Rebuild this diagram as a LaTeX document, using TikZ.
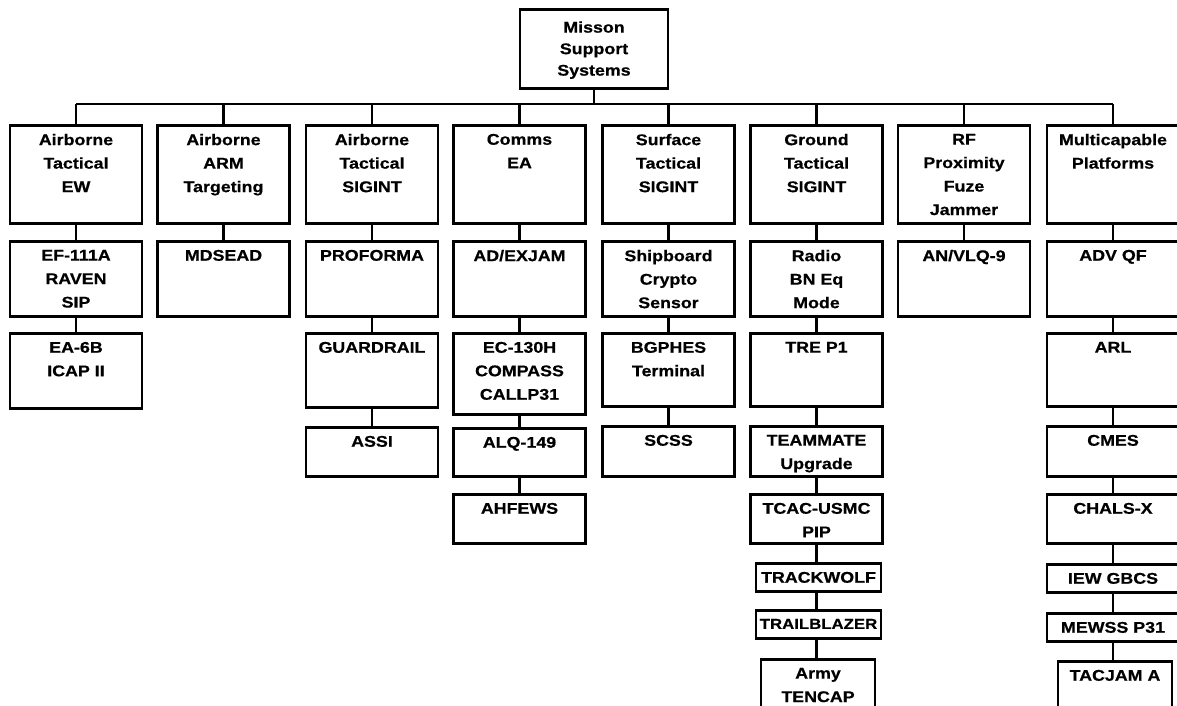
\documentclass[tikz,border=0pt]{standalone}
\usepackage{fontspec}
\setmainfont{Liberation Sans}[FakeStretch=1.15, BoldFeatures={FakeBold=0.6}]
\tikzset{
  x=1pt, y=-1pt,
  obox/.style={draw=black, line width=2.8pt, fill=white, inner sep=0pt, anchor=north,
    font=\fontsize{15.5}{23.5}\selectfont\bfseries},
  conn/.style={draw=black, line width=2.4pt},
}
% #1 name, #2 centre x, #3 top y, #4 width, #5 height, #6 text
\newcommand{\obx}[6]{%
  \node[obox, minimum width=#4pt, minimum height=#5pt] (#1) at (#2,#3)
    {\parbox[t][#5pt][t]{#4pt}{\centering\vspace*{8.5pt}#6\par}};}
\begin{document}
\begin{tikzpicture}
\useasboundingbox (0,0) rectangle (1177,706);
\clip (0,0) rectangle (1177,706);
% root
\node[obox, minimum width=148pt, minimum height=79pt, font=\fontsize{15.5}{21.5}\selectfont\bfseries] (root) at (594,8)
  {\parbox[t][79pt][t]{148pt}{\centering\vspace*{12pt}Misson\\Support\\Systems\par}};
\coordinate (bus) at (0,104);
% column A
\obx{A1}{76}{124}{132}{98}{Airborne\\Tactical\\EW}
\obx{A2}{76}{240}{132}{75}{EF-111A\\RAVEN\\SIP}
\obx{A3}{76}{332}{132}{75}{EA-6B\\ICAP II}
% column B
\obx{B1}{223.5}{124}{132}{98}{Airborne\\ARM\\Targeting}
\obx{B2}{223.5}{240}{132}{75}{MDSEAD}
% column C
\obx{C1}{372}{124}{132}{98}{Airborne\\Tactical\\SIGINT}
\obx{C2}{372}{240}{132}{75}{PROFORMA}
\obx{C3}{372}{332}{132}{74}{GUARDRAIL}
\obx{C4}{372}{426}{132}{49}{ASSI}
% column D
\obx{D1}{519.5}{124}{132}{98}{Comms\\EA}
\obx{D2}{519.5}{240}{132}{75}{AD/EXJAM}
\obx{D3}{519.5}{332}{132}{81}{EC-130H\\COMPASS\\CALLP31}
\obx{D4}{519.5}{427}{132}{48}{ALQ-149}
\obx{D5}{519.5}{493}{132}{49}{AHFEWS}
% column E
\obx{E1}{668.5}{124}{132}{98}{Surface\\Tactical\\SIGINT}
\obx{E2}{668.5}{240}{132}{75}{Shipboard\\Crypto\\Sensor}
\obx{E3}{668.5}{332}{132}{73}{BGPHES\\Terminal}
\obx{E4}{668.5}{425}{132}{50}{SCSS}
% column F
\obx{F1}{816.5}{124}{132}{98}{Ground\\Tactical\\SIGINT}
\obx{F2}{816.5}{240}{132}{75}{Radio\\BN Eq\\Mode}
\obx{F3}{816.5}{332}{132}{73}{TRE P1}
\obx{F4}{816.5}{425}{132}{50}{TEAMMATE\\Upgrade}
\obx{F5}{816.5}{493}{132}{49}{TCAC-USMC\\PIP}
\obx{F6}{818.5}{562}{125}{28}{TRACKWOLF}
\obx{F7}{818.5}{609}{125}{28}{\fontsize{14.6}{23.5}\selectfont TRAILBLAZER}
\obx{F8}{818}{658}{114}{70}{Army\\TENCAP}
% column G
\obx{G1}{964}{124}{132}{98}{RF\\Proximity\\Fuze\\Jammer}
\obx{G2}{964}{240}{132}{75}{AN/VLQ-9}
% column H
\obx{H1}{1113}{124}{132}{98}{Multicapable\\Platforms}
\obx{H2}{1113}{240}{132}{75}{ADV QF}
\obx{H3}{1113}{332}{132}{73}{ARL}
\obx{H4}{1113}{425}{132}{50}{CMES}
\obx{H5}{1113}{493}{132}{49}{CHALS-X}
\obx{H6}{1113}{563}{132}{28}{IEW GBCS}
\obx{H7}{1113}{612}{132}{28}{MEWSS P31}
\obx{H8}{1115}{660}{114}{70}{TACJAM A}
% connectors
\draw[conn] (root.south) -- (root.south |- bus);
\draw[conn] (A1.north |- bus) -- (H1.north |- bus);
\foreach \c in {A1,B1,C1,D1,E1,F1,G1,H1}
  \draw[conn] (\c.north) -- (\c.north |- bus);
\draw[conn] (A1.south) -- (A2.north);
\draw[conn] (A2.south) -- (A3.north);
\draw[conn] (B1.south) -- (B2.north);
\draw[conn] (C1.south) -- (C2.north);
\draw[conn] (C2.south) -- (C3.north);
\draw[conn] (C3.south) -- (C4.north);
\draw[conn] (D1.south) -- (D2.north);
\draw[conn] (D2.south) -- (D3.north);
\draw[conn] (D3.south) -- (D4.north);
\draw[conn] (D4.south) -- (D5.north);
\draw[conn] (E1.south) -- (E2.north);
\draw[conn] (E2.south) -- (E3.north);
\draw[conn] (E3.south) -- (E4.north);
\draw[conn] (F1.south) -- (F2.north);
\draw[conn] (F2.south) -- (F3.north);
\draw[conn] (F3.south) -- (F4.north);
\draw[conn] (F4.south) -- (F5.north);
\draw[conn] (F5.south) -- (F6.north -| F5.south);
\draw[conn] (F6.south -| F5.south) -- (F7.north -| F5.south);
\draw[conn] (F7.south -| F5.south) -- (F8.north -| F5.south);
\draw[conn] (G1.south) -- (G2.north);
\draw[conn] (H1.south) -- (H2.north);
\draw[conn] (H2.south) -- (H3.north);
\draw[conn] (H3.south) -- (H4.north);
\draw[conn] (H4.south) -- (H5.north);
\draw[conn] (H5.south) -- (H6.north);
\draw[conn] (H6.south) -- (H7.north);
\draw[conn] (H7.south) -- (H8.north -| H7.south);
\end{tikzpicture}
\end{document}
